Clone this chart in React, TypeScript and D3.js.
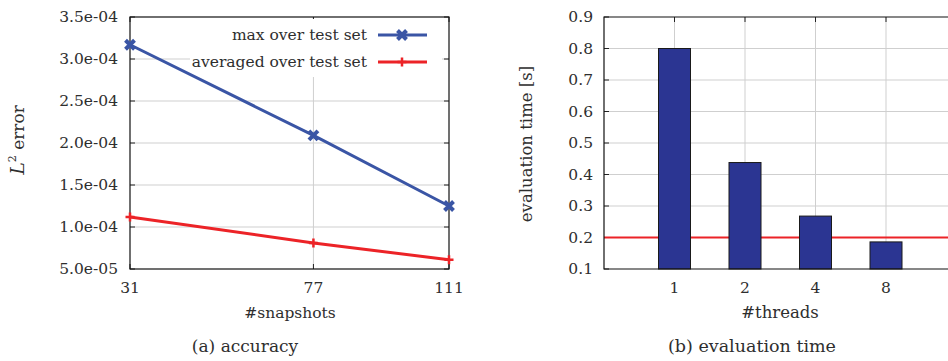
import React, { useRef, useEffect } from "react";
import * as d3 from "d3";

// panel (a): accuracy
const snapshots = [31, 77, 111];
const maxError = [3.17e-4, 2.09e-4, 1.25e-4];
const avgError = [1.12e-4, 8.1e-5, 6.1e-5];
const errorTicks = [5e-5, 1e-4, 1.5e-4, 2e-4, 2.5e-4, 3e-4, 3.5e-4];

// panel (b): evaluation time
const threads = ["1", "2", "4", "8"];
const evalTime = [0.8, 0.438, 0.268, 0.186];
const timeTicks = [0.1, 0.2, 0.3, 0.4, 0.5, 0.6, 0.7, 0.8, 0.9];
const targetTime = 0.2;

const FONT = "DejaVu Serif";
const TEXT = "#2e2e2e";
const GRID = "#cfcfcf";
const BLUE = "#3a55a5";
const RED = "#ec2327";
const BAR = "#2b3592";

export default function App() {
  const svgRef = useRef<SVGSVGElement>(null);

  useEffect(() => {
    const svg = d3.select(svgRef.current);
    svg.selectAll("*").remove();
    svg.style("font-family", FONT).style("font-size", "15.5px");

    const top = 17, bottom = 269;

    // ---------- (a) accuracy ----------
    const a = svg.append("g");
    const x = d3.scaleLinear().domain([31, 111]).range([130, 449]);
    const y = d3.scaleLinear().domain([5e-5, 3.5e-4]).range([bottom, top]);

    // grid
    a.selectAll(".hg").data(errorTicks.slice(1, -1)).join("line")
      .attr("x1", 130).attr("x2", 449)
      .attr("y1", d => y(d)).attr("y2", d => y(d))
      .attr("stroke", GRID).attr("stroke-width", 1);
    a.append("line")
      .attr("x1", x(77)).attr("x2", x(77)).attr("y1", top).attr("y2", bottom)
      .attr("stroke", GRID).attr("stroke-width", 1);

    // ticks inward both sides
    errorTicks.forEach(t => {
      a.append("line").attr("x1", 130).attr("x2", 135).attr("y1", y(t)).attr("y2", y(t)).attr("stroke", "#222");
      a.append("line").attr("x1", 444).attr("x2", 449).attr("y1", y(t)).attr("y2", y(t)).attr("stroke", "#222");
      a.append("text").attr("x", 118).attr("y", y(t)).attr("dy", "0.35em")
        .attr("text-anchor", "end").attr("fill", TEXT).text(d3.format(".1e")(t).replace(/e([+-])(\d)$/, "e$10$2"));
    });
    snapshots.forEach(s => {
      a.append("line").attr("x1", x(s)).attr("x2", x(s)).attr("y1", bottom).attr("y2", bottom - 5).attr("stroke", "#222");
      a.append("line").attr("x1", x(s)).attr("x2", x(s)).attr("y1", top).attr("y2", top + 5).attr("stroke", "#222");
      a.append("text").attr("x", x(s)).attr("y", 293).attr("text-anchor", "middle").attr("fill", TEXT).text(s);
    });

    // legend background
    a.append("rect").attr("x", 190).attr("y", 19).attr("width", 252).attr("height", 58).attr("fill", "#fff");

    a.append("rect").attr("x", 130).attr("y", top).attr("width", 319).attr("height", bottom - top)
      .attr("fill", "none").attr("stroke", "#111").attr("stroke-width", 1.2);

    const line = d3.line<number>().x((_, i) => x(snapshots[i])).y(d => y(d));
    a.append("path").datum(maxError).attr("d", line).attr("fill", "none").attr("stroke", BLUE).attr("stroke-width", 3);
    a.append("path").datum(avgError).attr("d", line).attr("fill", "none").attr("stroke", RED).attr("stroke-width", 3);

    const cross = (g: any, cx: number, cy: number) => {
      g.append("path").attr("d", `M${cx - 4.5},${cy - 4.5}L${cx + 4.5},${cy + 4.5}M${cx - 4.5},${cy + 4.5}L${cx + 4.5},${cy - 4.5}`)
        .attr("stroke", BLUE).attr("stroke-width", 4);
    };
    const plus = (g: any, cx: number, cy: number) => {
      g.append("path").attr("d", `M${cx - 4.5},${cy}L${cx + 4.5},${cy}M${cx},${cy - 4.5}L${cx},${cy + 4.5}`)
        .attr("stroke", RED).attr("stroke-width", 2.5);
    };
    maxError.forEach((v, i) => cross(a, x(snapshots[i]), y(v)));
    avgError.forEach((v, i) => plus(a, x(snapshots[i]), y(v)));

    // legend
    const leg = [
      { label: "max over test set", color: BLUE, mark: cross, y: 35 },
      { label: "averaged over test set", color: RED, mark: plus, y: 62 },
    ];
    leg.forEach(l => {
      a.append("text").attr("x", 367).attr("y", l.y).attr("dy", "0.35em").attr("text-anchor", "end")
        .attr("fill", TEXT).text(l.label);
      a.append("line").attr("x1", 378).attr("x2", 427).attr("y1", l.y).attr("y2", l.y)
        .attr("stroke", l.color).attr("stroke-width", 3);
      l.mark(a, 402, l.y);
    });

    // labels
    const yl = a.append("text").attr("transform", "translate(24,140) rotate(-90)")
      .attr("text-anchor", "middle").attr("fill", TEXT).attr("font-size", 17);
    yl.append("tspan").attr("font-style", "italic").attr("font-size", 19).text("L");
    yl.append("tspan").attr("dy", -8).attr("font-size", 11).text("2");
    yl.append("tspan").attr("dy", 8).text(" error");
    a.append("text").attr("x", 290).attr("y", 318).attr("text-anchor", "middle").attr("fill", TEXT).attr("font-size", 15.5).text("#snapshots");
    a.append("text").attr("x", 245).attr("y", 352).attr("text-anchor", "middle").attr("fill", TEXT).attr("font-size", 17).text("(a) accuracy");

    // ---------- (b) evaluation time ----------
    const b = svg.append("g");
    const left = 604;
    const xb = d3.scaleLinear().domain([0, 5]).range([left, left + 352.5]);
    const yb = d3.scaleLinear().domain([0.1, 0.9]).range([bottom, top]);

    b.selectAll(".hg").data(timeTicks.slice(1, -1)).join("line")
      .attr("x1", left).attr("x2", 948)
      .attr("y1", d => yb(d)).attr("y2", d => yb(d))
      .attr("stroke", GRID);
    threads.forEach((t, i) => {
      const cx = xb(i + 1);
      b.append("line").attr("x1", cx).attr("x2", cx).attr("y1", top).attr("y2", bottom).attr("stroke", GRID);
      b.append("line").attr("x1", cx).attr("x2", cx).attr("y1", top).attr("y2", top + 5).attr("stroke", "#222");
      b.append("text").attr("x", cx).attr("y", 293).attr("text-anchor", "middle").attr("fill", TEXT).text(t);
    });
    timeTicks.forEach(t => {
      b.append("line").attr("x1", left).attr("x2", left + 5).attr("y1", yb(t)).attr("y2", yb(t)).attr("stroke", "#222");
      b.append("text").attr("x", 593).attr("y", yb(t)).attr("dy", "0.35em").attr("text-anchor", "end")
        .attr("fill", TEXT).text(t.toFixed(1));
    });

    b.append("line").attr("x1", left).attr("x2", 948).attr("y1", yb(targetTime)).attr("y2", yb(targetTime))
      .attr("stroke", RED).attr("stroke-width", 2);

    const bw = 32;
    b.selectAll(".bar").data(evalTime).join("rect")
      .attr("x", (_, i) => xb(i + 1) - bw / 2).attr("width", bw)
      .attr("y", d => yb(d)).attr("height", d => yb(0.1) - yb(d))
      .attr("fill", BAR).attr("stroke", "#1a1a1a").attr("stroke-width", 1);

    b.append("path").attr("d", `M948,${top}H${left}V${bottom}H948`)
      .attr("fill", "none").attr("stroke", "#111").attr("stroke-width", 1.2);

    b.append("text").attr("transform", "translate(532,144) rotate(-90)")
      .attr("text-anchor", "middle").attr("fill", TEXT).attr("font-size", 16.5).text("evaluation time [s]");
    b.append("text").attr("x", 780).attr("y", 318).attr("text-anchor", "middle").attr("fill", TEXT).attr("font-size", 16.5).text("#threads");
    b.append("text").attr("x", 752).attr("y", 352).attr("text-anchor", "middle").attr("fill", TEXT).attr("font-size", 17.5).text("(b) evaluation time");
  }, []);

  return (
    <svg ref={svgRef} width={948} height={361}
      style={{ position: "absolute", left: 0, top: 0, background: "#fff" }} />
  );
}
